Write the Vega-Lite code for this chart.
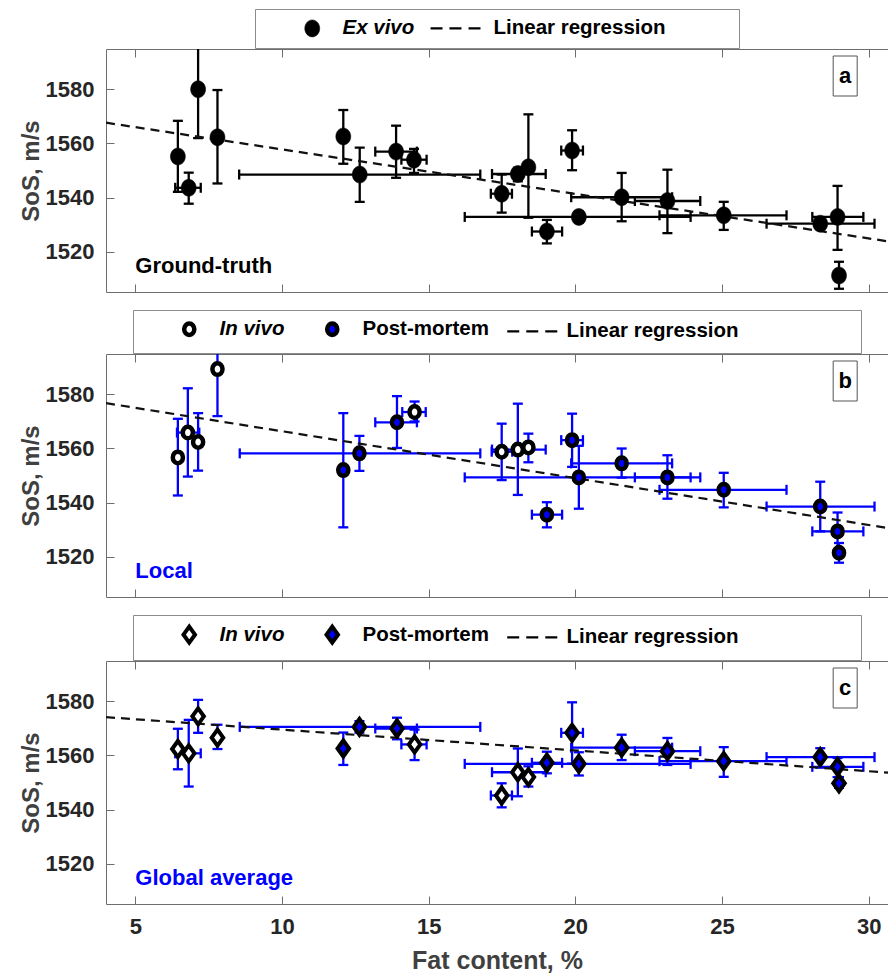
{
  "$schema": "https://vega.github.io/schema/vega-lite/v6.json",
  "background": "white",
  "padding": {"left": 18, "top": 8, "right": 0, "bottom": 2},
  "autosize": {"type": "pad"},
  "spacing": 16,
  "datasets": {
    "pts": [
      {"panel":"a","series":"Ex vivo","x":6.45,"y":1555.2,"ylo":1542.1,"yhi":1568.4},
      {"panel":"a","series":"Ex vivo","x":6.82,"y":1543.6,"ylo":1537.7,"yhi":1549.2,"xlo":6.36,"xhi":7.23},
      {"panel":"a","series":"Ex vivo","x":7.14,"y":1580.1,"ylo":1562.0,"yhi":1598.2},
      {"panel":"a","series":"Ex vivo","x":7.8,"y":1562.3,"ylo":1545.2,"yhi":1579.8},
      {"panel":"a","series":"Ex vivo","x":12.09,"y":1562.6,"ylo":1552.5,"yhi":1572.4},
      {"panel":"a","series":"Ex vivo","x":12.65,"y":1548.5,"ylo":1538.4,"yhi":1558.5,"xlo":8.54,"xhi":16.76},
      {"panel":"a","series":"Ex vivo","x":13.89,"y":1557.0,"ylo":1547.3,"yhi":1566.6,"xlo":13.18,"xhi":14.6},
      {"panel":"a","series":"Ex vivo","x":14.5,"y":1554.0,"ylo":1549.1,"yhi":1558.0,"xlo":14.07,"xhi":14.93},
      {"panel":"a","series":"Ex vivo","x":17.49,"y":1541.4,"ylo":1534.4,"yhi":1548.5,"xlo":17.12,"xhi":17.84},
      {"panel":"a","series":"Ex vivo","x":18.04,"y":1548.7,"ylo":1546.0,"yhi":1551.0,"xlo":17.16,"xhi":18.99},
      {"panel":"a","series":"Ex vivo","x":18.4,"y":1551.2,"ylo":1532.5,"yhi":1570.8},
      {"panel":"a","series":"Ex vivo","x":19.03,"y":1527.4,"ylo":1523.0,"yhi":1531.7,"xlo":18.52,"xhi":19.55},
      {"panel":"a","series":"Ex vivo","x":19.89,"y":1557.4,"ylo":1550.1,"yhi":1564.9,"xlo":19.52,"xhi":20.26},
      {"panel":"a","series":"Ex vivo","x":20.12,"y":1532.8,"ylo":1530.8,"yhi":1534.8,"xlo":16.23,"xhi":23.93},
      {"panel":"a","series":"Ex vivo","x":21.58,"y":1540.1,"ylo":1531.2,"yhi":1549.1,"xlo":19.86,"xhi":23.3},
      {"panel":"a","series":"Ex vivo","x":23.14,"y":1538.7,"ylo":1526.8,"yhi":1550.3,"xlo":22.03,"xhi":24.26},
      {"panel":"a","series":"Ex vivo","x":25.06,"y":1533.4,"ylo":1528.0,"yhi":1538.4,"xlo":22.87,"xhi":27.2},
      {"panel":"a","series":"Ex vivo","x":28.35,"y":1530.3,"ylo":1528.3,"yhi":1532.3,"xlo":26.52,"xhi":30.2},
      {"panel":"a","series":"Ex vivo","x":28.94,"y":1532.8,"ylo":1520.6,"yhi":1544.3,"xlo":28.08,"xhi":29.82},
      {"panel":"a","series":"Ex vivo","x":28.99,"y":1511.1,"ylo":1506.2,"yhi":1516.2},

      {"panel":"b","series":"In vivo","x":6.45,"y":1556.7,"ylo":1542.6,"yhi":1571.0},
      {"panel":"b","series":"In vivo","x":6.79,"y":1565.9,"ylo":1549.6,"yhi":1582.3,"xlo":6.42,"xhi":7.18},
      {"panel":"b","series":"In vivo","x":7.14,"y":1562.4,"ylo":1551.8,"yhi":1573.1},
      {"panel":"b","series":"In vivo","x":7.8,"y":1589.4,"ylo":1572.0,"yhi":1607.0},
      {"panel":"b","series":"In vivo","x":14.52,"y":1573.5,"ylo":1570.0,"yhi":1577.4,"xlo":14.1,"xhi":14.9},
      {"panel":"b","series":"In vivo","x":17.49,"y":1558.8,"ylo":1548.3,"yhi":1569.2,"xlo":17.15,"xhi":17.85},
      {"panel":"b","series":"In vivo","x":18.04,"y":1559.6,"ylo":1542.8,"yhi":1576.6,"xlo":17.16,"xhi":18.99},
      {"panel":"b","series":"In vivo","x":18.4,"y":1560.4,"ylo":1554.9,"yhi":1565.5},
      {"panel":"b","series":"Post-mortem","x":12.09,"y":1552.0,"ylo":1530.8,"yhi":1573.1},
      {"panel":"b","series":"Post-mortem","x":12.64,"y":1558.2,"ylo":1551.7,"yhi":1564.7,"xlo":8.56,"xhi":16.76},
      {"panel":"b","series":"Post-mortem","x":13.92,"y":1569.7,"ylo":1560.2,"yhi":1579.4,"xlo":13.18,"xhi":14.6},
      {"panel":"b","series":"Post-mortem","x":19.03,"y":1535.5,"ylo":1530.8,"yhi":1540.1,"xlo":18.52,"xhi":19.55},
      {"panel":"b","series":"Post-mortem","x":19.89,"y":1563.1,"ylo":1553.2,"yhi":1572.9,"xlo":19.52,"xhi":20.26},
      {"panel":"b","series":"Post-mortem","x":20.12,"y":1549.3,"ylo":1537.7,"yhi":1561.0,"xlo":16.23,"xhi":23.93},
      {"panel":"b","series":"Post-mortem","x":21.58,"y":1554.5,"ylo":1549.2,"yhi":1560.0,"xlo":19.86,"xhi":23.3},
      {"panel":"b","series":"Post-mortem","x":23.14,"y":1549.3,"ylo":1541.4,"yhi":1557.5,"xlo":22.03,"xhi":24.26},
      {"panel":"b","series":"Post-mortem","x":25.06,"y":1544.7,"ylo":1538.2,"yhi":1551.0,"xlo":22.87,"xhi":27.2},
      {"panel":"b","series":"Post-mortem","x":28.35,"y":1538.5,"ylo":1529.3,"yhi":1547.7,"xlo":26.52,"xhi":30.2},
      {"panel":"b","series":"Post-mortem","x":28.94,"y":1529.3,"ylo":1522.3,"yhi":1536.3,"xlo":28.08,"xhi":29.82},
      {"panel":"b","series":"Post-mortem","x":28.99,"y":1521.4,"ylo":1517.7,"yhi":1525.0},

      {"panel":"c","series":"In vivo","x":6.45,"y":1562.4,"ylo":1554.9,"yhi":1569.9},
      {"panel":"c","series":"In vivo","x":6.82,"y":1560.8,"ylo":1548.5,"yhi":1573.2,"xlo":6.36,"xhi":7.23},
      {"panel":"c","series":"In vivo","x":7.14,"y":1574.5,"ylo":1568.4,"yhi":1580.6},
      {"panel":"c","series":"In vivo","x":7.8,"y":1566.6,"ylo":1562.4,"yhi":1571.4},
      {"panel":"c","series":"In vivo","x":14.52,"y":1564.1,"ylo":1558.3,"yhi":1569.6,"xlo":14.07,"xhi":14.93},
      {"panel":"c","series":"In vivo","x":17.49,"y":1545.2,"ylo":1540.8,"yhi":1549.7,"xlo":17.12,"xhi":17.84},
      {"panel":"c","series":"In vivo","x":18.04,"y":1553.8,"ylo":1544.9,"yhi":1562.6,"xlo":17.16,"xhi":18.99},
      {"panel":"c","series":"In vivo","x":18.4,"y":1552.0,"ylo":1548.5,"yhi":1556.0},
      {"panel":"c","series":"Post-mortem","x":12.09,"y":1562.6,"ylo":1556.5,"yhi":1568.5},
      {"panel":"c","series":"Post-mortem","x":12.64,"y":1570.6,"ylo":1568.5,"yhi":1572.7,"xlo":8.56,"xhi":16.76},
      {"panel":"c","series":"Post-mortem","x":13.92,"y":1570.0,"ylo":1566.0,"yhi":1574.0,"xlo":13.18,"xhi":14.6},
      {"panel":"c","series":"Post-mortem","x":19.03,"y":1557.3,"ylo":1553.4,"yhi":1561.4,"xlo":18.52,"xhi":19.55},
      {"panel":"c","series":"Post-mortem","x":19.89,"y":1568.4,"ylo":1557.0,"yhi":1579.7,"xlo":19.52,"xhi":20.26},
      {"panel":"c","series":"Post-mortem","x":20.12,"y":1556.9,"ylo":1552.6,"yhi":1561.2,"xlo":16.23,"xhi":23.93},
      {"panel":"c","series":"Post-mortem","x":21.58,"y":1562.9,"ylo":1558.3,"yhi":1567.7,"xlo":19.86,"xhi":23.3},
      {"panel":"c","series":"Post-mortem","x":23.14,"y":1561.6,"ylo":1556.5,"yhi":1566.5,"xlo":22.03,"xhi":24.26},
      {"panel":"c","series":"Post-mortem","x":25.06,"y":1557.9,"ylo":1552.1,"yhi":1563.1,"xlo":22.87,"xhi":27.2},
      {"panel":"c","series":"Post-mortem","x":28.35,"y":1559.4,"ylo":1555.5,"yhi":1562.7,"xlo":26.52,"xhi":30.2},
      {"panel":"c","series":"Post-mortem","x":28.94,"y":1555.8,"ylo":1552.0,"yhi":1559.1,"xlo":28.08,"xhi":29.82},
      {"panel":"c","series":"Post-mortem","x":28.99,"y":1549.7,"ylo":1548.0,"yhi":1552.0}
    ],
    "reg": [
      {"panel":"a","x":4,"y":1567.7},{"panel":"a","x":31,"y":1523.2},
      {"panel":"b","x":4,"y":1576.8},{"panel":"b","x":31,"y":1529.95},
      {"panel":"c","x":4,"y":1574.2},{"panel":"c","x":31,"y":1553.4}
    ]
  },
  "resolve": {
    "scale": {"x":"independent","y":"independent","shape":"independent","fill":"independent","stroke":"independent","size":"independent","strokeWidth":"independent"},
    "legend": {"shape":"independent","fill":"independent","stroke":"independent","size":"independent","strokeWidth":"independent"}
  },
  "vconcat": [
    {
      "width": 782, "height": 243,
      "resolve": {"axis": {"x": "independent"}},
      "layer": [
        {
          "data": {"name": "pts"},
          "transform": [{"filter": "datum.panel === 'a' && isValid(datum.xlo)"}],
          "mark": {"type": "rule", "color": "black", "strokeWidth": 2.3, "clip": true},
          "encoding": {
            "x": {"field": "xlo", "type": "quantitative", "scale": {"domain": [4, 30.66], "nice": false, "zero": false}, "axis": null},
            "x2": {"field": "xhi"},
            "y": {"field": "y", "type": "quantitative", "title": "SoS, m/s", "scale": {"domain": [1505, 1595], "nice": false, "zero": false}}
          }
        },
        {
          "data": {"name": "pts"},
          "transform": [{"filter": "datum.panel === 'a' && isValid(datum.xlo)"}, {"fold": ["xlo", "xhi"], "as": ["k", "v"]}],
          "mark": {"type": "tick", "orient": "vertical", "color": "black", "size": 10, "thickness": 2.3, "opacity": 1, "clip": true},
          "encoding": {
            "x": {"field": "v", "type": "quantitative", "scale": {"domain": [4, 30.66], "nice": false, "zero": false}, "axis": null},
            "y": {"field": "y", "type": "quantitative", "title": "SoS, m/s", "scale": {"domain": [1505, 1595], "nice": false, "zero": false}}
          }
        },
        {
          "data": {"name": "pts"},
          "transform": [{"filter": "datum.panel === 'a'"}],
          "mark": {"type": "rule", "color": "black", "strokeWidth": 2.3, "clip": true},
          "encoding": {
            "x": {"field": "x", "type": "quantitative", "scale": {"domain": [4, 30.66], "nice": false, "zero": false}, "axis": null},
            "y": {"field": "ylo", "type": "quantitative", "title": "SoS, m/s", "scale": {"domain": [1505, 1595], "nice": false, "zero": false}},
            "y2": {"field": "yhi"}
          }
        },
        {
          "data": {"name": "pts"},
          "transform": [{"filter": "datum.panel === 'a'"}, {"fold": ["ylo", "yhi"], "as": ["k", "v"]}],
          "mark": {"type": "tick", "orient": "horizontal", "color": "black", "size": 10, "thickness": 2.3, "opacity": 1, "clip": true},
          "encoding": {
            "x": {"field": "x", "type": "quantitative", "scale": {"domain": [4, 30.66], "nice": false, "zero": false}, "axis": null},
            "y": {"field": "v", "type": "quantitative", "title": "SoS, m/s", "scale": {"domain": [1505, 1595], "nice": false, "zero": false}}
          }
        },
        {
          "data": {"name": "reg"},
          "transform": [{"filter": "datum.panel === 'a'"}],
          "mark": {"type": "line", "color": "#111", "strokeWidth": 2.2, "strokeDash": [9, 6], "clip": true},
          "encoding": {
            "x": {"field": "x", "type": "quantitative", "scale": {"domain": [4, 30.66], "nice": false, "zero": false},
                  "axis": {"orient": "top", "values": [5, 10, 15, 20, 25, 30], "labels": false, "title": null}},
            "y": {"field": "y", "type": "quantitative", "title": "SoS, m/s", "scale": {"domain": [1505, 1595], "nice": false, "zero": false}}
          }
        },
        {
          "data": {"name": "pts"},
          "transform": [{"filter": "datum.panel === 'a'"}],
          "mark": {"type": "point", "filled": true, "opacity": 1},
          "encoding": {
            "x": {"field": "x", "type": "quantitative", "scale": {"domain": [4, 30.66], "nice": false, "zero": false},
                  "axis": {"orient": "bottom", "values": [5, 10, 15, 20, 25, 30], "labels": false, "title": null}},
            "y": {"field": "y", "type": "quantitative", "title": "SoS, m/s", "scale": {"domain": [1505, 1595], "nice": false, "zero": false}},
            "shape": {"field": "series", "type": "nominal",
              "scale": {"domain": ["Ex vivo", "Linear regression"], "range": ["M0,-1A0.88,1,0,1,1,0,1A0.88,1,0,1,1,0,-1Z", "M-3.85,0H-2.44M-1.62,0H-0.21M0.62,0H2.03"]},
              "legend": {"title": "\u00a0", "titleOrient": "right", "titlePadding": 64, "titleFontSize": 11, "symbolOffset": 38, "labelOffset": 20, "columnPadding": -6.5,
                "labelFontStyle": {"expr": "datum.value === 'Ex vivo' ? 'italic' : 'normal'"}}},
            "fill": {"field": "series", "type": "nominal", "scale": {"domain": ["Ex vivo", "Linear regression"], "range": ["black", "transparent"]},
              "legend": {"title": "\u00a0", "titleOrient": "right", "titlePadding": 64, "titleFontSize": 11, "symbolOffset": 38, "labelOffset": 20, "columnPadding": -6.5,
                "labelFontStyle": {"expr": "datum.value === 'Ex vivo' ? 'italic' : 'normal'"}}},
            "stroke": {"field": "series", "type": "nominal", "scale": {"domain": ["Ex vivo", "Linear regression"], "range": ["black", "black"]},
              "legend": {"title": "\u00a0", "titleOrient": "right", "titlePadding": 64, "titleFontSize": 11, "symbolOffset": 38, "labelOffset": 20, "columnPadding": -6.5,
                "labelFontStyle": {"expr": "datum.value === 'Ex vivo' ? 'italic' : 'normal'"}}},
            "size": {"field": "series", "type": "nominal", "scale": {"type": "ordinal", "domain": ["Ex vivo", "Linear regression"], "range": [289, 289]},
              "legend": {"title": "\u00a0", "titleOrient": "right", "titlePadding": 64, "titleFontSize": 11, "symbolOffset": 38, "labelOffset": 20, "columnPadding": -6.5,
                "labelFontStyle": {"expr": "datum.value === 'Ex vivo' ? 'italic' : 'normal'"}}},
            "strokeWidth": {"field": "series", "type": "nominal", "scale": {"type": "ordinal", "domain": ["Ex vivo", "Linear regression"], "range": [0.5, 2.2]},
              "legend": {"title": "\u00a0", "titleOrient": "right", "titlePadding": 64, "titleFontSize": 11, "symbolOffset": 38, "labelOffset": 20, "columnPadding": -6.5,
                "labelFontStyle": {"expr": "datum.value === 'Ex vivo' ? 'italic' : 'normal'"}}}
          }
        },
        {
          "data": {"values": [{"letter": "a"}]},
          "mark": {"type": "point", "shape": "M-0.6,-1H0.6V1H-0.6Z", "filled": true, "fill": "white", "stroke": "#555", "strokeWidth": 1, "size": 1600, "opacity": 1},
          "encoding": {
            "x": {"datum": 29.2, "type": "quantitative", "scale": {"domain": [4, 30.66], "nice": false, "zero": false}, "axis": null},
            "y": {"datum": 1585, "type": "quantitative", "title": "SoS, m/s", "scale": {"domain": [1505, 1595], "nice": false, "zero": false}}
          }
        },
        {
          "data": {"values": [{"letter": "a"}]},
          "mark": {"type": "text", "font": "Liberation Sans", "fontWeight": "bold", "fontSize": 22, "align": "center", "baseline": "middle", "color": "black"},
          "encoding": {
            "x": {"datum": 29.2, "type": "quantitative", "scale": {"domain": [4, 30.66], "nice": false, "zero": false}, "axis": null},
            "y": {"datum": 1585, "type": "quantitative", "title": "SoS, m/s", "scale": {"domain": [1505, 1595], "nice": false, "zero": false}},
            "text": {"field": "letter"}
          }
        },
        {
          "data": {"values": [{"label": "Ground-truth"}]},
          "mark": {"type": "text", "font": "Liberation Sans", "fontWeight": "bold", "fontSize": 22, "align": "left", "baseline": "alphabetic", "color": "black"},
          "encoding": {
            "x": {"datum": 5, "type": "quantitative", "scale": {"domain": [4, 30.66], "nice": false, "zero": false}, "axis": null},
            "y": {"datum": 1512, "type": "quantitative", "title": "SoS, m/s", "scale": {"domain": [1505, 1595], "nice": false, "zero": false}},
            "text": {"field": "label"}
          }
        }
      ]
    },
    {
      "width": 782, "height": 243,
      "resolve": {"axis": {"x": "independent"}},
      "layer": [
        {
          "data": {"name": "pts"},
          "transform": [{"filter": "datum.panel === 'b' && isValid(datum.xlo)"}],
          "mark": {"type": "rule", "color": "#0000ff", "strokeWidth": 2.3, "clip": true},
          "encoding": {
            "x": {"field": "xlo", "type": "quantitative", "scale": {"domain": [4, 30.66], "nice": false, "zero": false}, "axis": null},
            "x2": {"field": "xhi"},
            "y": {"field": "y", "type": "quantitative", "title": "SoS, m/s", "scale": {"domain": [1505, 1595], "nice": false, "zero": false}}
          }
        },
        {
          "data": {"name": "pts"},
          "transform": [{"filter": "datum.panel === 'b' && isValid(datum.xlo)"}, {"fold": ["xlo", "xhi"], "as": ["k", "v"]}],
          "mark": {"type": "tick", "orient": "vertical", "color": "#0000ff", "size": 10, "thickness": 2.3, "opacity": 1, "clip": true},
          "encoding": {
            "x": {"field": "v", "type": "quantitative", "scale": {"domain": [4, 30.66], "nice": false, "zero": false}, "axis": null},
            "y": {"field": "y", "type": "quantitative", "title": "SoS, m/s", "scale": {"domain": [1505, 1595], "nice": false, "zero": false}}
          }
        },
        {
          "data": {"name": "pts"},
          "transform": [{"filter": "datum.panel === 'b'"}],
          "mark": {"type": "rule", "color": "#0000ff", "strokeWidth": 2.3, "clip": true},
          "encoding": {
            "x": {"field": "x", "type": "quantitative", "scale": {"domain": [4, 30.66], "nice": false, "zero": false}, "axis": null},
            "y": {"field": "ylo", "type": "quantitative", "title": "SoS, m/s", "scale": {"domain": [1505, 1595], "nice": false, "zero": false}},
            "y2": {"field": "yhi"}
          }
        },
        {
          "data": {"name": "pts"},
          "transform": [{"filter": "datum.panel === 'b'"}, {"fold": ["ylo", "yhi"], "as": ["k", "v"]}],
          "mark": {"type": "tick", "orient": "horizontal", "color": "#0000ff", "size": 10, "thickness": 2.3, "opacity": 1, "clip": true},
          "encoding": {
            "x": {"field": "x", "type": "quantitative", "scale": {"domain": [4, 30.66], "nice": false, "zero": false}, "axis": null},
            "y": {"field": "v", "type": "quantitative", "title": "SoS, m/s", "scale": {"domain": [1505, 1595], "nice": false, "zero": false}}
          }
        },
        {
          "data": {"name": "reg"},
          "transform": [{"filter": "datum.panel === 'b'"}],
          "mark": {"type": "line", "color": "#111", "strokeWidth": 2.2, "strokeDash": [9, 6], "clip": true},
          "encoding": {
            "x": {"field": "x", "type": "quantitative", "scale": {"domain": [4, 30.66], "nice": false, "zero": false},
                  "axis": {"orient": "top", "values": [5, 10, 15, 20, 25, 30], "labels": false, "title": null}},
            "y": {"field": "y", "type": "quantitative", "title": "SoS, m/s", "scale": {"domain": [1505, 1595], "nice": false, "zero": false}}
          }
        },
        {
          "data": {"name": "pts"},
          "transform": [{"filter": "datum.panel === 'b'"}],
          "mark": {"type": "point", "filled": true, "opacity": 1},
          "encoding": {
            "x": {"field": "x", "type": "quantitative", "scale": {"domain": [4, 30.66], "nice": false, "zero": false},
                  "axis": {"orient": "bottom", "values": [5, 10, 15, 20, 25, 30], "labels": false, "title": null}},
            "y": {"field": "y", "type": "quantitative", "title": "SoS, m/s", "scale": {"domain": [1505, 1595], "nice": false, "zero": false}},
            "shape": {"field": "series", "type": "nominal",
              "scale": {"domain": ["In vivo", "Post-mortem", "Linear regression"], "range": ["M0,-1A0.88,1,0,1,1,0,1A0.88,1,0,1,1,0,-1Z", "M0,-1A0.88,1,0,1,1,0,1A0.88,1,0,1,1,0,-1Z", "M-5.05,0H-2.96M-1.74,0H0.35M1.57,0H3.66"]},
              "legend": {"title": "\u00a0", "titleOrient": "right", "titlePadding": 113, "titleFontSize": 11, "symbolOffset": 37, "labelOffset": 20, "columnPadding": -6,
                "labelFontStyle": {"expr": "datum.value === 'In vivo' ? 'italic' : 'normal'"}}},
            "fill": {"field": "series", "type": "nominal", "scale": {"domain": ["In vivo", "Post-mortem", "Linear regression"], "range": ["white", "#0000ff", "transparent"]},
              "legend": {"title": "\u00a0", "titleOrient": "right", "titlePadding": 113, "titleFontSize": 11, "symbolOffset": 37, "labelOffset": 20, "columnPadding": -6,
                "labelFontStyle": {"expr": "datum.value === 'In vivo' ? 'italic' : 'normal'"}}},
            "stroke": {"field": "series", "type": "nominal", "scale": {"domain": ["In vivo", "Post-mortem", "Linear regression"], "range": ["black", "black", "black"]},
              "legend": {"title": "\u00a0", "titleOrient": "right", "titlePadding": 113, "titleFontSize": 11, "symbolOffset": 37, "labelOffset": 20, "columnPadding": -6,
                "labelFontStyle": {"expr": "datum.value === 'In vivo' ? 'italic' : 'normal'"}}},
            "size": {"field": "series", "type": "nominal", "scale": {"type": "ordinal", "domain": ["In vivo", "Post-mortem", "Linear regression"], "range": [132, 132, 132]},
              "legend": {"title": "\u00a0", "titleOrient": "right", "titlePadding": 113, "titleFontSize": 11, "symbolOffset": 37, "labelOffset": 20, "columnPadding": -6,
                "labelFontStyle": {"expr": "datum.value === 'In vivo' ? 'italic' : 'normal'"}}},
            "strokeWidth": {"field": "series", "type": "nominal", "scale": {"type": "ordinal", "domain": ["In vivo", "Post-mortem", "Linear regression"], "range": [4.5, 4.5, 2.2]},
              "legend": {"title": "\u00a0", "titleOrient": "right", "titlePadding": 113, "titleFontSize": 11, "symbolOffset": 37, "labelOffset": 20, "columnPadding": -6,
                "labelFontStyle": {"expr": "datum.value === 'In vivo' ? 'italic' : 'normal'"}}}
          }
        },
        {
          "data": {"values": [{"letter": "b"}]},
          "mark": {"type": "point", "shape": "M-0.6,-1H0.6V1H-0.6Z", "filled": true, "fill": "white", "stroke": "#555", "strokeWidth": 1, "size": 1600, "opacity": 1},
          "encoding": {
            "x": {"datum": 29.2, "type": "quantitative", "scale": {"domain": [4, 30.66], "nice": false, "zero": false}, "axis": null},
            "y": {"datum": 1585, "type": "quantitative", "title": "SoS, m/s", "scale": {"domain": [1505, 1595], "nice": false, "zero": false}}
          }
        },
        {
          "data": {"values": [{"letter": "b"}]},
          "mark": {"type": "text", "font": "Liberation Sans", "fontWeight": "bold", "fontSize": 22, "align": "center", "baseline": "middle", "color": "black"},
          "encoding": {
            "x": {"datum": 29.2, "type": "quantitative", "scale": {"domain": [4, 30.66], "nice": false, "zero": false}, "axis": null},
            "y": {"datum": 1585, "type": "quantitative", "title": "SoS, m/s", "scale": {"domain": [1505, 1595], "nice": false, "zero": false}},
            "text": {"field": "letter"}
          }
        },
        {
          "data": {"values": [{"label": "Local"}]},
          "mark": {"type": "text", "font": "Liberation Sans", "fontWeight": "bold", "fontSize": 22, "align": "left", "baseline": "alphabetic", "color": "#0000ff"},
          "encoding": {
            "x": {"datum": 5, "type": "quantitative", "scale": {"domain": [4, 30.66], "nice": false, "zero": false}, "axis": null},
            "y": {"datum": 1512, "type": "quantitative", "title": "SoS, m/s", "scale": {"domain": [1505, 1595], "nice": false, "zero": false}},
            "text": {"field": "label"}
          }
        }
      ]
    },
    {
      "width": 782, "height": 243,
      "resolve": {"axis": {"x": "independent"}},
      "layer": [
        {
          "data": {"name": "pts"},
          "transform": [{"filter": "datum.panel === 'c' && isValid(datum.xlo)"}],
          "mark": {"type": "rule", "color": "#0000ff", "strokeWidth": 2.3, "clip": true},
          "encoding": {
            "x": {"field": "xlo", "type": "quantitative", "scale": {"domain": [4, 30.66], "nice": false, "zero": false}, "axis": null},
            "x2": {"field": "xhi"},
            "y": {"field": "y", "type": "quantitative", "title": "SoS, m/s", "scale": {"domain": [1505, 1595], "nice": false, "zero": false}}
          }
        },
        {
          "data": {"name": "pts"},
          "transform": [{"filter": "datum.panel === 'c' && isValid(datum.xlo)"}, {"fold": ["xlo", "xhi"], "as": ["k", "v"]}],
          "mark": {"type": "tick", "orient": "vertical", "color": "#0000ff", "size": 10, "thickness": 2.3, "opacity": 1, "clip": true},
          "encoding": {
            "x": {"field": "v", "type": "quantitative", "scale": {"domain": [4, 30.66], "nice": false, "zero": false}, "axis": null},
            "y": {"field": "y", "type": "quantitative", "title": "SoS, m/s", "scale": {"domain": [1505, 1595], "nice": false, "zero": false}}
          }
        },
        {
          "data": {"name": "pts"},
          "transform": [{"filter": "datum.panel === 'c'"}],
          "mark": {"type": "rule", "color": "#0000ff", "strokeWidth": 2.3, "clip": true},
          "encoding": {
            "x": {"field": "x", "type": "quantitative", "scale": {"domain": [4, 30.66], "nice": false, "zero": false}, "axis": null},
            "y": {"field": "ylo", "type": "quantitative", "title": "SoS, m/s", "scale": {"domain": [1505, 1595], "nice": false, "zero": false}},
            "y2": {"field": "yhi"}
          }
        },
        {
          "data": {"name": "pts"},
          "transform": [{"filter": "datum.panel === 'c'"}, {"fold": ["ylo", "yhi"], "as": ["k", "v"]}],
          "mark": {"type": "tick", "orient": "horizontal", "color": "#0000ff", "size": 10, "thickness": 2.3, "opacity": 1, "clip": true},
          "encoding": {
            "x": {"field": "x", "type": "quantitative", "scale": {"domain": [4, 30.66], "nice": false, "zero": false}, "axis": null},
            "y": {"field": "v", "type": "quantitative", "title": "SoS, m/s", "scale": {"domain": [1505, 1595], "nice": false, "zero": false}}
          }
        },
        {
          "data": {"name": "reg"},
          "transform": [{"filter": "datum.panel === 'c'"}],
          "mark": {"type": "line", "color": "#111", "strokeWidth": 2.2, "strokeDash": [9, 6], "clip": true},
          "encoding": {
            "x": {"field": "x", "type": "quantitative", "scale": {"domain": [4, 30.66], "nice": false, "zero": false},
                  "axis": {"orient": "top", "values": [5, 10, 15, 20, 25, 30], "labels": false, "title": null}},
            "y": {"field": "y", "type": "quantitative", "title": "SoS, m/s", "scale": {"domain": [1505, 1595], "nice": false, "zero": false}}
          }
        },
        {
          "data": {"name": "pts"},
          "transform": [{"filter": "datum.panel === 'c'"}],
          "mark": {"type": "point", "filled": true, "opacity": 1},
          "encoding": {
            "x": {"field": "x", "type": "quantitative", "title": "Fat content, %", "scale": {"domain": [4, 30.66], "nice": false, "zero": false},
                  "axis": {"orient": "bottom", "values": [5, 10, 15, 20, 25, 30], "title": "Fat content, %"}},
            "y": {"field": "y", "type": "quantitative", "title": "SoS, m/s", "scale": {"domain": [1505, 1595], "nice": false, "zero": false}},
            "shape": {"field": "series", "type": "nominal",
              "scale": {"domain": ["In vivo", "Post-mortem", "Linear regression"], "range": ["M0,-1L0.72,0L0,1L-0.72,0Z", "M0,-1L0.72,0L0,1L-0.72,0Z", "M-3.63,0H-2.13M-1.25,0H0.25M1.13,0H2.63"]},
              "legend": {"title": "\u00a0", "titleOrient": "right", "titlePadding": 113, "titleFontSize": 11, "symbolOffset": 37, "labelOffset": 20, "columnPadding": -6,
                "labelFontStyle": {"expr": "datum.value === 'In vivo' ? 'italic' : 'normal'"}}},
            "fill": {"field": "series", "type": "nominal", "scale": {"domain": ["In vivo", "Post-mortem", "Linear regression"], "range": ["white", "#0000ff", "transparent"]},
              "legend": {"title": "\u00a0", "titleOrient": "right", "titlePadding": 113, "titleFontSize": 11, "symbolOffset": 37, "labelOffset": 20, "columnPadding": -6,
                "labelFontStyle": {"expr": "datum.value === 'In vivo' ? 'italic' : 'normal'"}}},
            "stroke": {"field": "series", "type": "nominal", "scale": {"domain": ["In vivo", "Post-mortem", "Linear regression"], "range": ["black", "black", "black"]},
              "legend": {"title": "\u00a0", "titleOrient": "right", "titlePadding": 113, "titleFontSize": 11, "symbolOffset": 37, "labelOffset": 20, "columnPadding": -6,
                "labelFontStyle": {"expr": "datum.value === 'In vivo' ? 'italic' : 'normal'"}}},
            "size": {"field": "series", "type": "nominal", "scale": {"type": "ordinal", "domain": ["In vivo", "Post-mortem", "Linear regression"], "range": [256, 256, 256]},
              "legend": {"title": "\u00a0", "titleOrient": "right", "titlePadding": 113, "titleFontSize": 11, "symbolOffset": 37, "labelOffset": 20, "columnPadding": -6,
                "labelFontStyle": {"expr": "datum.value === 'In vivo' ? 'italic' : 'normal'"}}},
            "strokeWidth": {"field": "series", "type": "nominal", "scale": {"type": "ordinal", "domain": ["In vivo", "Post-mortem", "Linear regression"], "range": [4, 4, 2.2]},
              "legend": {"title": "\u00a0", "titleOrient": "right", "titlePadding": 113, "titleFontSize": 11, "symbolOffset": 37, "labelOffset": 20, "columnPadding": -6,
                "labelFontStyle": {"expr": "datum.value === 'In vivo' ? 'italic' : 'normal'"}}}
          }
        },
        {
          "data": {"values": [{"letter": "c"}]},
          "mark": {"type": "point", "shape": "M-0.6,-1H0.6V1H-0.6Z", "filled": true, "fill": "white", "stroke": "#555", "strokeWidth": 1, "size": 1600, "opacity": 1},
          "encoding": {
            "x": {"datum": 29.2, "type": "quantitative", "scale": {"domain": [4, 30.66], "nice": false, "zero": false}, "axis": null},
            "y": {"datum": 1585, "type": "quantitative", "title": "SoS, m/s", "scale": {"domain": [1505, 1595], "nice": false, "zero": false}}
          }
        },
        {
          "data": {"values": [{"letter": "c"}]},
          "mark": {"type": "text", "font": "Liberation Sans", "fontWeight": "bold", "fontSize": 22, "align": "center", "baseline": "middle", "color": "black"},
          "encoding": {
            "x": {"datum": 29.2, "type": "quantitative", "scale": {"domain": [4, 30.66], "nice": false, "zero": false}, "axis": null},
            "y": {"datum": 1585, "type": "quantitative", "title": "SoS, m/s", "scale": {"domain": [1505, 1595], "nice": false, "zero": false}},
            "text": {"field": "letter"}
          }
        },
        {
          "data": {"values": [{"label": "Global average"}]},
          "mark": {"type": "text", "font": "Liberation Sans", "fontWeight": "bold", "fontSize": 22, "align": "left", "baseline": "alphabetic", "color": "#0000ff"},
          "encoding": {
            "x": {"datum": 5, "type": "quantitative", "scale": {"domain": [4, 30.66], "nice": false, "zero": false}, "axis": null},
            "y": {"datum": 1512, "type": "quantitative", "title": "SoS, m/s", "scale": {"domain": [1505, 1595], "nice": false, "zero": false}},
            "text": {"field": "label"}
          }
        }
      ]
    }
  ],
  "config": {
    "font": "Liberation Sans",
    "numberFormat": "d",
    "view": {"stroke": "#6e6e6e", "strokeWidth": 1},
    "axis": {
      "grid": false, "domain": false, "tickColor": "#6e6e6e", "tickWidth": 1, "tickSize": -8,
      "labelFont": "Liberation Sans", "labelFontSize": 22, "labelFontWeight": "bold", "labelColor": "#262626",
      "titleFont": "Liberation Sans", "titleFontWeight": "bold", "titleColor": "#404040"
    },
    "axisY": {"labelPadding": 20, "titleFontSize": 24, "titlePadding": 2, "tickCount": 5},
    "axisX": {"labelPadding": 20, "titleFontSize": 25, "titlePadding": 11},
    "legend": {
      "orient": "top", "direction": "horizontal", "offset": 0, "padding": 9,
      "strokeColor": "#8c8c8c", "fillColor": "white",
      "labelFont": "Liberation Sans", "labelFontSize": 20.5, "labelFontWeight": "bold", "labelColor": "black", "labelLimit": 600,
      "layout": {"top": {"anchor": "middle"}}
    }
  }
}
